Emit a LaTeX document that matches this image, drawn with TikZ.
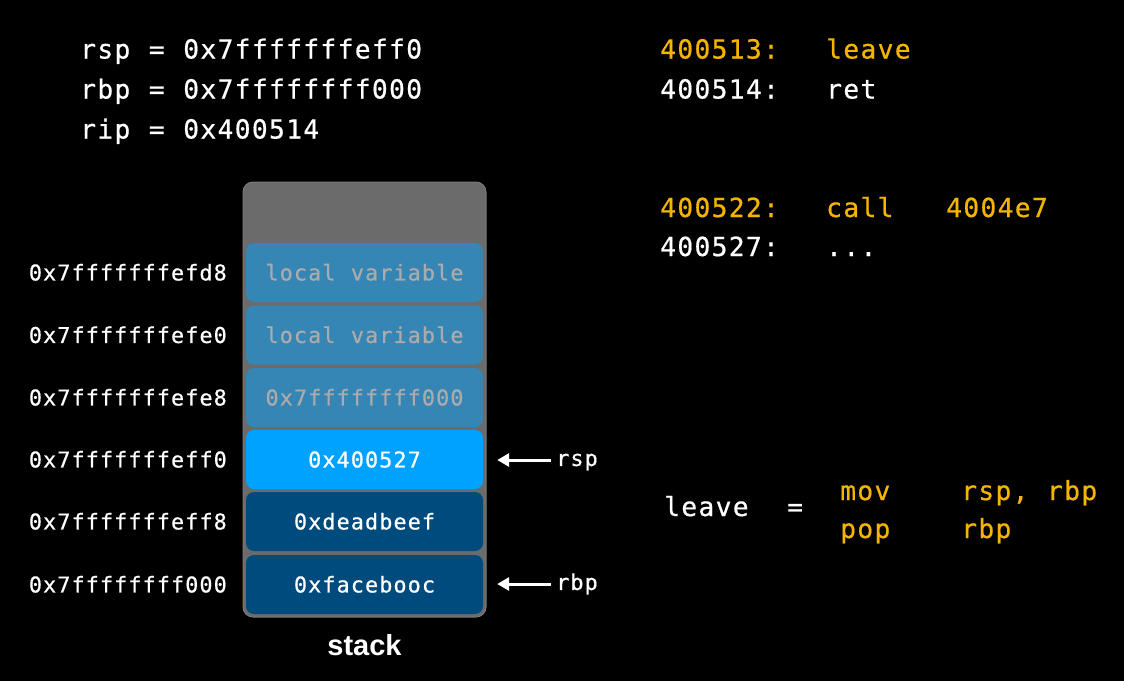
\documentclass[tikz,border=0pt]{standalone}
\usepackage{fontspec}
\setmainfont{Liberation Sans}
\newfontfamily\mono[LetterSpace=5,WordSpace={1.083,0,0},FakeBold=0.6]{DejaVu Sans Mono}
\usetikzlibrary{arrows.meta}
\definecolor{stackgray}{HTML}{6B6B6B}
\definecolor{stackedge}{HTML}{7A7A7A}
\definecolor{cellold}{HTML}{3585B5}
\definecolor{cellcur}{HTML}{00A2FF}
\definecolor{celldark}{HTML}{004B7D}
\definecolor{dimtext}{HTML}{ABABAB}
\definecolor{codeyellow}{HTML}{F5B400}
\begin{document}
\begin{tikzpicture}[x=1pt,y=-1pt,
  big/.style={font=\mono\fontsize{26.3}{30}\selectfont, text=white, anchor=base west, inner sep=0pt},
  hl/.style={text=codeyellow},
  addr/.style={font=\mono\fontsize{21.8}{24}\selectfont, text=white, anchor=east, inner sep=0pt, text height=15.9pt, text depth=0pt},
  cell/.style={rounded corners=8pt, minimum width=237pt, minimum height=59pt, inner sep=0pt,
    font=\mono\fontsize{21.8}{24}\selectfont, text=white, text height=15.9pt, text depth=0pt},
  oldcell/.style={cell, fill=cellold, text=dimtext},
  curcell/.style={cell, fill=cellcur},
  darkcell/.style={cell, fill=celldark},
  ptr/.style={font=\mono\fontsize{21.8}{24}\selectfont, text=white, anchor=west, inner sep=0pt, text height=11.9pt, text depth=0pt},
  ptrarrow/.style={draw=white, line width=3pt, -{Triangle[length=12pt,width=13pt]}, shorten <=5pt, shorten >=14pt},
]
\fill[black] (0,0) rectangle (1124,681);
\useasboundingbox (0,0) rectangle (1124,681);

% register values
\node[big] (regsp) at (80,58.5) {rsp = 0x7fffffffeff0};
\node[big] (regbp) at (80,98.5) {rbp = 0x7ffffffff000};
\node[big] (regip) at (80,138.5) {rip = 0x400514};

% code listing
\node[big,hl] (a1) at (660,58.5) {400513:};
\node[big,hl] (i1) at (826,58.5) {leave};
\node[big] (a2) at (660,98.5) {400514:};
\node[big] (i2) at (826,98.5) {ret};
\node[big,hl] (a3) at (660,217) {400522:};
\node[big,hl] (i3) at (826,217) {call};
\node[big,hl] (o3) at (946,217) {4004e7};
\node[big] (a4) at (660,256) {400527:};
\node[big] (i4) at (826,256) {...};

% leave equivalence
\node[big] (lv) at (664,516) {leave};
\node[big] (eq) at (787,516) {=};
\node[big,hl] (m1) at (840,500) {mov};
\node[big,hl] (m1o) at (961,500) {rsp, rbp};
\node[big,hl] (m2) at (840,538) {pop};
\node[big,hl] (m2o) at (961,538) {rbp};

% stack
\node[draw=stackedge, line width=1pt, fill=stackgray, rounded corners=10pt, minimum width=243pt, minimum height=435pt, inner sep=0pt] (stack) at (364.5,399.5) {};
\node[oldcell] (c1) at (364.5,272.5) {local variable};
\node[oldcell] (c2) at (364.5,335) {local variable};
\node[oldcell] (c3) at (364.5,397.5) {0x7ffffffff000};
\node[curcell] (c4) at (364.5,459.5) {0x400527};
\node[darkcell] (c5) at (364.5,521.5) {0xdeadbeef};
\node[darkcell] (c6) at (364.5,584.5) {0xfacebooc};

\node[addr] (d1) at (227,272.5) {0x7fffffffefd8};
\node[addr] (d2) at (227,335) {0x7fffffffefe0};
\node[addr] (d3) at (227,397.5) {0x7fffffffefe8};
\node[addr] (d4) at (227,459.5) {0x7fffffffeff0};
\node[addr] (d5) at (227,521.5) {0x7fffffffeff8};
\node[addr] (d6) at (227,584.5) {0x7ffffffff000};

\node[ptr] (rsp) at (556,460) {rsp};
\node[ptr] (rbp) at (556,584) {rbp};
\draw[ptrarrow] (rsp.west) -- (c4.east |- rsp.west);
\draw[ptrarrow] (rbp.west) -- (c6.east |- rbp.west);

\node[font=\bfseries\fontsize{29}{34}\selectfont, text=white, anchor=base, inner sep=0pt] (lbl) at (364.5,655) {stack};
\end{tikzpicture}
\end{document}
